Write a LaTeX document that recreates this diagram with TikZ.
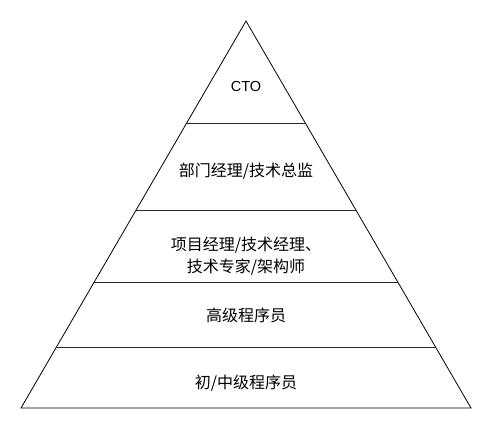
\documentclass[tikz,border=0pt]{standalone}
\usepackage{fontspec}
\setmainfont{Liberation Sans}
\newfontfamily\cjk{Noto Sans CJK SC}
\usetikzlibrary{positioning}

\begin{document}
\begin{tikzpicture}[x=1bp, y=-1bp,
    tier/.style={draw=black!85, line width=0.8bp},
    tiertext/.style={font=\cjk\fontsize{16bp}{22bp}\selectfont, align=center}]
    \useasboundingbox (0,0) rectangle (492,429);

    % pyramid outline
    \draw[line width=0.8bp] (246,21) coordinate (apex) -- (471,408) coordinate (br)
        -- (21,408) coordinate (bl) -- cycle;

    % tier separators
    \foreach \yy in {123,210,282,347}
        \draw[tier] ({246-0.5814*(\yy-21)},\yy) -- ({246+0.5814*(\yy-21)},\yy);

    % tier labels
    \node[font=\fontsize{14.5bp}{17bp}\selectfont] (cto) at (246,87) {CTO};
    \node[tiertext] (director) at (246,171.5) {部门经理/技术总监};
    \node[tiertext] (manager) at (246,256) {项目经理/技术经理、\\技术专家/架构师};
    \node[tiertext] (senior) at (246,315) {高级程序员};
    \node[tiertext] (junior) at (246,383) {初/中级程序员};
\end{tikzpicture}
\end{document}
